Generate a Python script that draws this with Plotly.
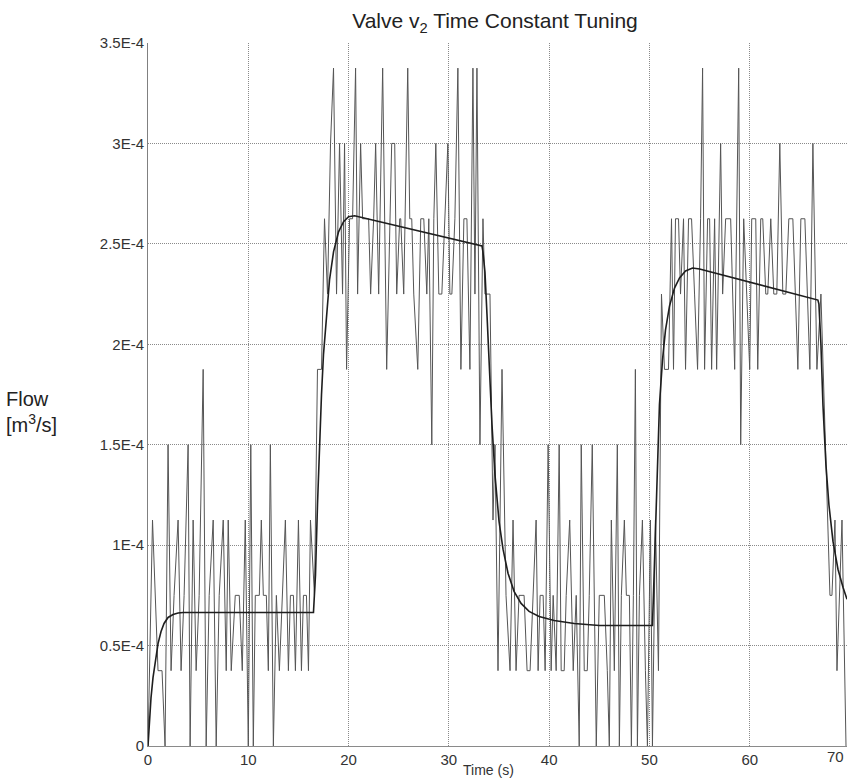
import plotly.graph_objects as go

# ---------------- data (flow in units of 1E-4 m^3/s) ----------------
meas_t = [
    0.0, 0.45, 1.0, 1.4, 1.7, 2.0, 2.3, 2.6, 3.0, 3.3, 3.6, 4.0, 4.2, 4.5, 4.8, 5.1, 5.5, 5.8, 6.1, 6.5,
    6.8, 7.1, 7.5, 7.8, 8.0, 8.3, 8.7, 9.1, 9.4, 9.7, 10.0, 10.25, 10.5, 10.7, 11.1, 11.3, 11.5, 11.8, 12.0, 12.2,
    12.5, 12.8, 13.1, 13.4, 13.7, 14.0, 14.2, 14.5, 14.7, 15.0, 15.3, 15.5, 15.8, 16.0, 16.2, 16.6, 16.9, 17.3, 17.6, 17.9,
    18.2, 18.5, 18.8, 19.1, 19.4, 19.6, 19.8, 20.1, 20.4, 20.7, 20.9, 21.2, 21.4, 22.0, 22.2, 22.5, 22.7, 23.0, 23.4, 23.8,
    24.1, 24.3, 24.6, 24.8, 25.1, 25.2, 25.5, 25.9, 26.1, 26.3, 26.5, 26.9, 27.2, 27.5, 27.8, 28.0, 28.3, 28.5, 28.7, 29.0,
    29.3, 29.6, 29.9, 30.1, 30.3, 30.6, 30.9, 31.2, 31.5, 31.8, 32.1, 32.4, 32.6, 32.8, 33.1, 33.4, 33.6, 34.1, 34.4, 34.6,
    34.9, 35.3, 35.7, 36.1, 36.4, 36.7, 37.0, 37.5, 37.8, 38.1, 38.4, 38.7, 38.9, 39.1, 39.4, 39.6, 39.9, 40.2, 40.4, 40.7,
    41.0, 41.2, 41.5, 41.7, 42.05, 42.4, 42.7, 43.0, 43.2, 43.5, 43.8, 44.0, 44.3, 44.7, 45.0, 45.5, 45.8, 46.0, 46.2, 46.5,
    46.8, 47.0, 47.2, 47.5, 47.7, 48.0, 48.2, 48.4, 48.6, 48.8, 49.0, 49.3, 49.6, 49.8, 50.1, 50.3, 50.6, 50.9, 51.2, 51.5,
    51.9, 52.2, 52.4, 52.6, 52.9, 53.1, 53.4, 53.6, 53.9, 54.2, 54.5, 54.8, 55.1, 55.3, 55.5, 55.8, 56.0, 56.2, 56.5, 56.7,
    57.1, 57.3, 57.6, 58.1, 58.5, 58.9, 59.1, 59.4, 59.7, 60.0, 60.2, 60.6, 60.8, 61.1, 61.3, 61.6, 61.8, 62.1, 62.4, 62.7,
    63.0, 63.3, 63.6, 63.9, 64.3, 64.8, 65.1, 65.5, 66.0, 66.3, 66.7, 67.1, 68.0, 68.2, 68.5, 68.7, 69.2, 69.6,
]
meas_v = [
    0.0, 1.125, 0.375, 0.375, 0.0, 1.5, 0.375, 0.75, 1.125, 0.375, 0.75, 1.5, 0.0, 1.125, 0.375, 0.75, 1.875, 0.0, 0.75, 1.125,
    0.0, 0.75, 1.125, 0.375, 1.125, 0.375, 0.75, 0.75, 0.375, 1.125, 0.0, 1.5, 0.0, 0.75, 0.75, 1.125, 0.75, 0.75, 0.375, 1.5,
    0.0, 0.75, 0.375, 0.75, 1.125, 0.375, 0.75, 0.75, 0.375, 1.125, 0.375, 0.75, 0.75, 0.375, 1.125, 0.75, 1.875, 1.875, 2.625, 2.25,
    3.0, 3.375, 2.25, 3.0, 2.25, 3.0, 1.875, 2.625, 2.625, 3.375, 2.25, 3.0, 2.625, 2.625, 2.25, 2.625, 3.0, 2.25, 3.375, 1.875,
    2.625, 3.0, 3.0, 2.25, 2.625, 2.625, 2.25, 3.375, 2.625, 2.625, 2.25, 1.875, 2.625, 2.625, 2.25, 2.625, 1.5, 2.625, 3.0, 2.25,
    2.25, 2.625, 3.0, 2.25, 2.25, 2.625, 3.375, 1.875, 2.625, 2.625, 1.875, 3.375, 2.25, 3.375, 1.5, 2.625, 2.25, 2.25, 1.125, 1.5,
    0.375, 1.875, 0.75, 0.375, 1.125, 0.375, 0.75, 0.75, 0.375, 0.375, 0.75, 1.125, 0.375, 0.75, 0.75, 0.375, 1.5, 0.375, 0.75, 0.375,
    1.5, 0.375, 0.375, 0.75, 1.125, 0.375, 0.75, 0.0, 1.5, 0.375, 0.375, 0.75, 1.5, 0.0, 0.75, 0.75, 0.375, 0.0, 1.125, 0.375,
    1.5, 0.0, 0.75, 1.125, 0.75, 0.75, 0.0, 0.75, 1.875, 0.0, 0.75, 1.125, 0.375, 0.0, 1.125, 0.0, 1.125, 0.375, 2.25, 1.875,
    1.875, 2.625, 1.875, 2.625, 2.625, 2.25, 2.625, 1.875, 2.625, 2.625, 2.25, 1.875, 2.625, 3.375, 1.875, 2.625, 2.625, 1.875, 2.625, 1.875,
    3.0, 2.25, 2.625, 2.625, 1.875, 3.375, 1.5, 2.625, 2.25, 1.875, 2.625, 2.625, 1.875, 2.625, 2.625, 2.25, 2.25, 2.625, 2.25, 2.25,
    3.0, 2.25, 2.25, 2.625, 2.625, 1.875, 2.625, 2.625, 1.875, 3.0, 1.875, 2.25, 0.75, 0.75, 1.125, 0.375, 1.125, 0.0,
]

# model (smooth) flow: points
model_t = [
    0.0, 0.15, 0.3, 0.5, 0.7, 1.0, 1.3, 1.6, 2.0, 2.5, 3.0, 3.5,
    16.5, 16.7, 16.9, 17.1, 17.3, 17.5, 17.8, 18.1, 18.5, 19.0, 19.5, 20.0, 20.6,
    33.3, 33.4, 33.6, 33.8, 34.0, 34.3, 34.6, 35.0, 35.4, 35.9, 36.5, 37.2, 38.0, 39.0, 40.5, 42.5, 45.0,
    50.3, 50.4, 50.6, 50.8, 51.0, 51.3, 51.6, 52.0, 52.5, 53.0, 53.6, 54.3, 55.0,
    66.8, 66.9, 67.1, 67.3, 67.6, 67.9, 68.3, 68.8, 69.3, 69.7,
]
model_v = [
    0.0, 0.13, 0.24, 0.34, 0.42, 0.51, 0.57, 0.61, 0.64, 0.655, 0.662, 0.665,
    0.665, 0.85, 1.2, 1.5, 1.75, 1.95, 2.15, 2.32, 2.46, 2.56, 2.61, 2.635, 2.64,
    2.49, 2.46, 2.36, 2.15, 1.9, 1.6, 1.35, 1.12, 0.98, 0.86, 0.77, 0.71, 0.67, 0.645, 0.625, 0.61, 0.6,
    0.6, 0.75, 1.1, 1.45, 1.7, 1.92, 2.07, 2.19, 2.28, 2.33, 2.365, 2.38, 2.375,
    2.22, 2.2, 2.0, 1.7, 1.4, 1.2, 1.02, 0.88, 0.79, 0.73,
]

y_tickvals = [0, 0.5, 1.0, 1.5, 2.0, 2.5, 3.0, 3.5]
y_ticktext = ["0", "0.5E-4", "1E-4", "1.5E-4", "2E-4", "2.5E-4", "3E-4", "3.5E-4"]
x_tickvals = [0, 10, 20, 30, 40, 50, 60]

FONT = "Liberation Sans, Arial, sans-serif"
GRID = "#8a8a8a"

fig = go.Figure()
fig.add_trace(go.Scatter(x=meas_t, y=meas_v, mode="lines",
                         line=dict(color="#555555", width=1), showlegend=False))
fig.add_trace(go.Scatter(x=model_t, y=model_v, mode="lines",
                         line=dict(color="#1e1e1e", width=1.6), showlegend=False))

fig.update_layout(
    width=847, height=780,
    margin=dict(l=148, r=0, t=43, b=34),
    paper_bgcolor="white", plot_bgcolor="white",
    font=dict(family=FONT, color="#333333"),
    title=dict(text="Valve v<sub>2</sub> Time Constant Tuning", x=(495 - 148) / 699, xref="paper",
               xanchor="center", y=1 - 21 / 780, yref="container", yanchor="middle",
               font=dict(size=21, color="#222222", family=FONT)),
    xaxis=dict(range=[0, 69.7], tickvals=x_tickvals, ticks="", showgrid=True,
               gridcolor=GRID, griddash="1px,1px", gridwidth=1, zeroline=False,
               showline=True, linecolor=GRID, linewidth=1,
               tickfont=dict(size=15, color="#333333")),
    yaxis=dict(range=[0, 3.5], tickvals=y_tickvals, ticktext=y_ticktext, ticks="",
               showgrid=True, gridcolor=GRID, griddash="1px,1px", gridwidth=1,
               zeroline=False, showline=True, linecolor="#808080", linewidth=1,
               tickfont=dict(size=15, color="#333333")),
)

fig.add_annotation(text="Flow<br>[m<sup>3</sup>/s]", xref="paper", yref="paper",
                   x=(4 - 148) / 699, y=(746 - 412) / 703, xanchor="left", yanchor="middle",
                   align="left", showarrow=False, font=dict(size=20, color="#222222", family=FONT))
fig.add_annotation(text="Time (s)", xref="paper", yref="paper",
                   x=(488 - 148) / 699, y=(746 - 770) / 703, xanchor="center", yanchor="middle",
                   showarrow=False, font=dict(size=14, color="#333333", family=FONT))
fig.add_annotation(text="70", xref="paper", yref="paper",
                   x=(835 - 148) / 699, y=(746 - 756) / 703, xanchor="center", yanchor="middle",
                   showarrow=False, font=dict(size=15, color="#333333", family=FONT))

fig.write_html("out.html")
